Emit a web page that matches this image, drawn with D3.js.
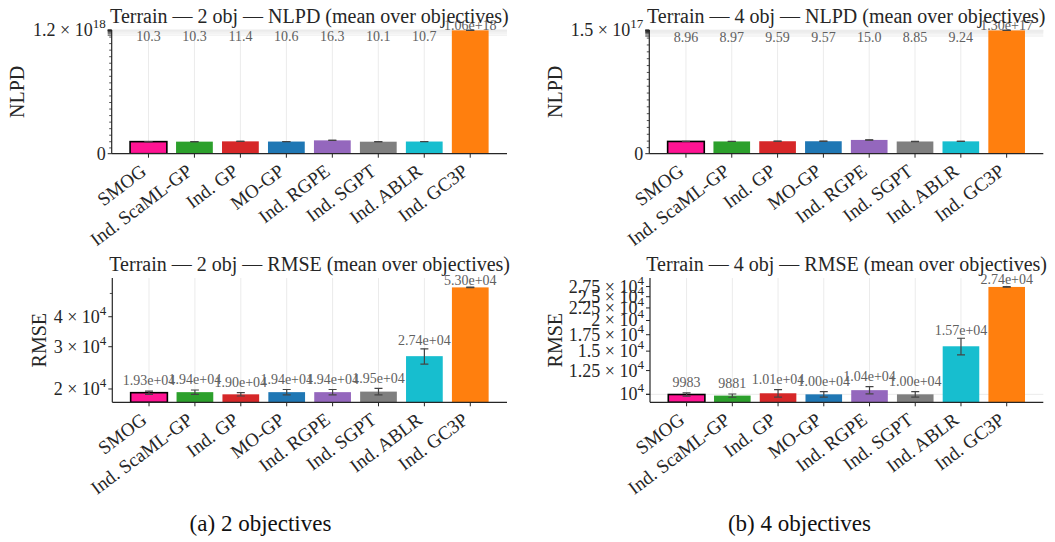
<!DOCTYPE html>
<html>
<head>
<meta charset="utf-8">
<script src="https://cdn.jsdelivr.net/npm/d3@7"></script>
<style>
  body { margin: 0; background: #fff; }
  svg, svg text { font-family: "Liberation Serif", "DejaVu Serif", serif !important; }
</style>
</head>
<body>
<svg id="fig" width="1055" height="542" font-family="Liberation Serif, DejaVu Serif, serif"></svg>
<script>
// Methods and their colours (shared by every panel)
const methods = ["SMOG", "Ind. ScaML-GP", "Ind. GP", "MO-GP", "Ind. RGPE", "Ind. SGPT", "Ind. ABLR", "Ind. GC3P"];
const colors  = ["#ff1493", "#2ca02c", "#d62728", "#1f77b4", "#9467bd", "#7f7f7f", "#17becf", "#ff7f0e"];

// NLPD, 2 objectives
const nlpd2     = [10.3, 10.3, 11.4, 10.6, 16.3, 10.1, 10.7, 1.06e18];
const nlpd2Err  = [0.2, 0.2, 0.3, 0.2, 0.6, 0.2, 0.2, 1e16];
// NLPD, 4 objectives
const nlpd4     = [8.96, 8.97, 9.59, 9.57, 15.0, 8.85, 9.24, 1.30e17];
const nlpd4Err  = [0.2, 0.2, 0.3, 0.2, 0.6, 0.2, 0.2, 1e15];
// RMSE, 2 objectives
const rmse2     = [19300, 19400, 19000, 19400, 19400, 19500, 27400, 53000];
const rmse2Err  = [300, 400, 300, 500, 500, 600, 2000, 150];
// RMSE, 4 objectives
const rmse4     = [9983, 9881, 10100, 10000, 10400, 10000, 15700, 27400];
const rmse4Err  = [150, 150, 350, 250, 350, 250, 1230, 80];

// Axis limits and labelled ticks
const nlpd2Top = 1.2e18, nlpd4Top = 1.5e17;
const nlpd2Ticks = [[0, "0"], [1.2e18, ["1.2 × 10", "18"]]];
const nlpd4Ticks = [[0, "0"], [1.5e17, ["1.5 × 10", "17"]]];
const rmse2Domain = [17600, 58000];
const rmse4Domain = [9280, 29800];
const rmse2Ticks = [[2e4, ["2 × 10", "4"]], [3e4, ["3 × 10", "4"]], [4e4, ["4 × 10", "4"]], [5e4, null]];
const rmse4Ticks = [[1e4, ["10", "4"]], [1.25e4, ["1.25 × 10", "4"]], [1.5e4, ["1.5 × 10", "4"]],
                    [1.75e4, ["1.75 × 10", "4"]], [2e4, ["2 × 10", "4"]], [2.25e4, ["2.25 × 10", "4"]],
                    [2.5e4, ["2.5 × 10", "4"]], [2.75e4, ["2.75 × 10", "4"]]];

const svg = d3.select("#fig");
const INK = "#262626";
const SERIF = "Liberation Serif, DejaVu Serif, serif";

// value label text: short numbers keep 3 significant digits, large ones use e-notation
function fmtValue(v) {
  if (v >= 1e4) {
    const [m, e] = v.toExponential(2).split("e");
    return m + "e" + e[0] + e.slice(1).padStart(2, "0");
  }
  if (v >= 1000) return v.toFixed(0);
  return v.toPrecision(3);
}

function txt(g) { return g.append("text").attr("font-family", SERIF); }

function writeTickLabel(g, x, y, lab) {
  const t = txt(g).attr("x", x).attr("y", y + 6).attr("text-anchor", "end")
    .attr("font-size", 18).attr("fill", INK);
  if (typeof lab === "string") { t.text(lab); return; }
  t.append("tspan").text(lab[0]);
  t.append("tspan").attr("dy", -8).attr("font-size", 13).text(lab[1]);
}

let clipId = 0;
function panel(o) {
  const g = svg.append("g");
  const x = d3.scaleBand().domain(methods).range([o.x0, o.x1]).paddingInner(0.2).paddingOuter(0.4);
  const y = o.y;
  const cx = m => x(m) + x.bandwidth() / 2;

  // light grid
  const grid = g.append("g").attr("stroke", "#ebebeb").attr("stroke-width", 1);
  methods.forEach(m => grid.append("line").attr("x1", cx(m)).attr("x2", cx(m)).attr("y1", o.y1).attr("y2", o.y0));
  (o.hGrid || []).forEach(v => grid.append("line").attr("x1", o.x0).attr("x2", o.x1).attr("y1", y(v)).attr("y2", y(v)));

  // bars
  const id = "clip" + (clipId++);
  g.append("clipPath").attr("id", id).append("rect")
    .attr("x", o.x0).attr("y", o.y0 - 1).attr("width", o.x1 - o.x0).attr("height", o.y1 - o.y0 + 1);
  const bars = g.append("g").attr("clip-path", `url(#${id})`);
  methods.forEach((m, i) => {
    const top = y(o.values[i]);
    bars.append("rect").attr("x", x(m)).attr("width", x.bandwidth())
      .attr("y", top).attr("height", o.y1 - top).attr("fill", colors[i])
      .attr("stroke", i === 0 ? "#000" : "none").attr("stroke-width", i === 0 ? 1.6 : 0);
  });
  // error bars
  methods.forEach((m, i) => {
    const lo = y(Math.max(o.values[i] - o.errs[i], y.domain()[0]));
    const hi = y(o.values[i] + o.errs[i]);
    const c = cx(m);
    const eb = bars.append("g").attr("stroke", "#444").attr("stroke-width", 1.2);
    eb.append("line").attr("x1", c).attr("x2", c).attr("y1", lo).attr("y2", hi);
    eb.append("line").attr("x1", c - 4).attr("x2", c + 4).attr("y1", lo).attr("y2", lo);
    eb.append("line").attr("x1", c - 4).attr("x2", c + 4).attr("y1", hi).attr("y2", hi);
  });

  // axes spines
  g.append("line").attr("x1", o.x0).attr("x2", o.x0).attr("y1", o.y0).attr("y2", o.y1).attr("stroke", INK).attr("stroke-width", 1.2);
  g.append("line").attr("x1", o.x0).attr("x2", o.x1).attr("y1", o.y1).attr("y2", o.y1).attr("stroke", INK).attr("stroke-width", 1.2);

  // x ticks + rotated labels
  methods.forEach(m => {
    g.append("line").attr("x1", cx(m)).attr("x2", cx(m)).attr("y1", o.y1).attr("y2", o.y1 + 4).attr("stroke", INK);
    txt(g).attr("text-anchor", "end").attr("font-size", 19).attr("fill", INK)
      .attr("transform", `translate(${cx(m) - 1},${o.y1 + 20}) rotate(-37)`).text(m);
  });

  // y minor ticks
  (o.minor || []).forEach(v => g.append("line").attr("x1", o.x0 - 2.5).attr("x2", o.x0).attr("y1", y(v)).attr("y2", y(v)).attr("stroke", INK).attr("stroke-width", 0.8));
  (o.hGrid || []).forEach(v => g.append("line").attr("x1", o.x0 - 4).attr("x2", o.x0).attr("y1", y(v)).attr("y2", y(v)).attr("stroke", INK).attr("stroke-width", 1));
  // y labelled ticks
  o.ticks.forEach(([v, lab]) => {
    g.append("line").attr("x1", o.x0 - (lab ? 4 : 2.5)).attr("x2", o.x0).attr("y1", y(v)).attr("y2", y(v)).attr("stroke", INK).attr("stroke-width", lab ? 1 : 0.8);
    if (lab) writeTickLabel(g, o.x0 - 6, y(v), lab);
  });

  // value labels
  const off = 0.02 * y.domain()[1];
  methods.forEach((m, i) => {
    txt(g).attr("x", cx(m)).attr("y", Math.max(y(o.values[i] + o.errs[i] + off), o.y0 - 10))
      .attr("text-anchor", "middle").attr("font-size", 14).attr("fill", "#606060")
      .text(fmtValue(o.values[i]));
  });

  // title and y label
  txt(g).attr("x", (o.x0 + o.x1) / 2).attr("y", o.titleY).attr("text-anchor", "middle")
    .attr("font-size", 20).attr("fill", INK).text(o.title);
  txt(g).attr("transform", `translate(${o.ylabelX},${(o.y0 + o.y1) / 2}) rotate(-90)`)
    .attr("text-anchor", "middle").attr("font-size", 20).attr("fill", INK).text(o.ylabel);
}

const decades = top => d3.range(0, 19).map(k => Math.pow(10, k)).filter(v => v <= top);

// NLPD panels: symmetric log scale from zero
const yN2 = d3.scaleSymlog().constant(0.15).domain([0, nlpd2Top]).range([153.7, 30]).clamp(true);
const yN4 = d3.scaleSymlog().constant(0.15).domain([0, nlpd4Top]).range([153.7, 30]).clamp(true);
// RMSE panels: log scale
const yR2 = d3.scaleLog().domain(rmse2Domain).range([402.3, 278]).clamp(true);
const yR4 = d3.scaleLog().domain(rmse4Domain).range([402.3, 278]).clamp(true);

panel({ x0: 111.7, x1: 507, y0: 30, y1: 153.7, y: yN2, values: nlpd2, errs: nlpd2Err,
  ticks: nlpd2Ticks, minor: decades(nlpd2Top), hGrid: d3.ticks(0, nlpd2Top, 6).filter(v => v > 0),
  title: "Terrain — 2 obj — NLPD (mean over objectives)", titleY: 23, ylabel: "NLPD", ylabelX: 24 });
panel({ x0: 649.3, x1: 1043.3, y0: 30, y1: 153.7, y: yN4, values: nlpd4, errs: nlpd4Err,
  ticks: nlpd4Ticks, minor: decades(nlpd4Top), hGrid: d3.ticks(0, nlpd4Top, 6).filter(v => v > 0),
  title: "Terrain — 4 obj — NLPD (mean over objectives)", titleY: 23, ylabel: "NLPD", ylabelX: 562 });
panel({ x0: 112.3, x1: 507, y0: 278, y1: 402.3, y: yR2, values: rmse2, errs: rmse2Err,
  ticks: rmse2Ticks, minor: [], hGrid: [],
  title: "Terrain — 2 obj — RMSE (mean over objectives)", titleY: 271, ylabel: "RMSE", ylabelX: 45.5 });
panel({ x0: 650, x1: 1043.3, y0: 278, y1: 402.3, y: yR4, values: rmse4, errs: rmse4Err,
  ticks: rmse4Ticks, minor: [], hGrid: [1e4],
  title: "Terrain — 4 obj — RMSE (mean over objectives)", titleY: 271, ylabel: "RMSE", ylabelX: 562 });

// sub-figure captions
txt(svg).attr("x", 260.5).attr("y", 531).attr("text-anchor", "middle").attr("font-size", 23).attr("fill", "#111").text("(a) 2 objectives");
txt(svg).attr("x", 799.5).attr("y", 531).attr("text-anchor", "middle").attr("font-size", 23).attr("fill", "#111").text("(b) 4 objectives");
</script>
</body>
</html>
